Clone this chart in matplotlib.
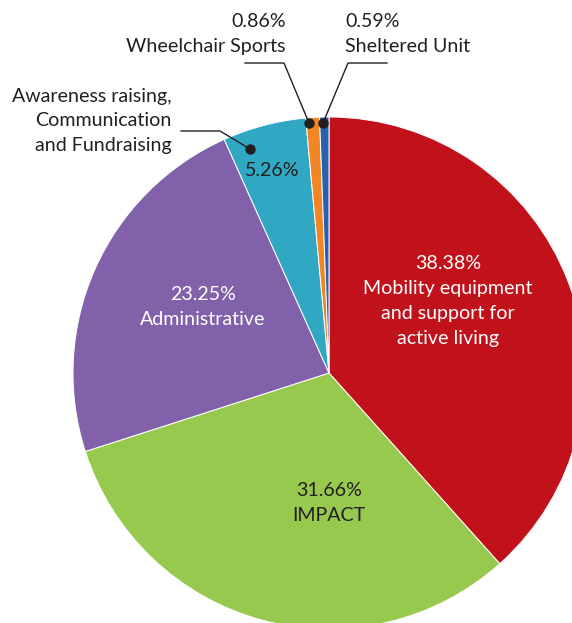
import matplotlib.pyplot as plt

plt.rcParams['font.family'] = ['Lato', 'DejaVu Sans']

categories = ['Mobility equipment\nand support for\nactive living', 'IMPACT', 'Administrative',
              'Awareness raising,\nCommunication\nand Fundraising', 'Wheelchair Sports', 'Sheltered Unit']
values = [38.38, 31.66, 23.25, 5.26, 0.86, 0.59]
colors = ['#C1121C', '#98C94F', '#8161AA', '#31A8C3', '#F28625', '#2862AE']

dark = '#231F20'

fig = plt.figure(figsize=(5.72, 6.23), dpi=100)
ax = fig.add_axes([0, 0, 1, 1])

# y axis inverted so positions below are in picture pixels (top-left origin)
ax.pie(values, colors=colors, center=(329, 373), radius=256, startangle=270,
       counterclock=True, wedgeprops=dict(edgecolor='white', linewidth=0.7))
ax.set_xlim(0, 572)
ax.set_ylim(623, 0)
ax.axis('off')

fs = 14.1
ls = 1.55
lbl = [f'{v:.2f}%\n{c}' for v, c in zip(values, categories)]

# labels inside the slices
ax.text(448, 301, lbl[0], color='white', fontsize=fs, ha='center', va='center', linespacing=ls)
ax.text(329, 503, lbl[1], color=dark, fontsize=fs, ha='center', va='center', linespacing=ls)
ax.text(203, 307, lbl[2], color='white', fontsize=fs, ha='center', va='center', linespacing=ls)
ax.text(272, 170, f'{values[3]:.2f}%', color=dark, fontsize=fs, ha='center', va='center')

# outside labels with leader lines
ax.text(172, 121, categories[3], color=dark, fontsize=fs, ha='right', va='center',
        linespacing=ls, multialignment='right')
ax.plot([181, 220, 250], [131, 131, 149], color=dark, lw=1)
ax.plot(250, 149, 'o', color=dark, ms=6.5)

ax.text(286, 34, lbl[4], color=dark, fontsize=fs, ha='right', va='center',
        linespacing=ls, multialignment='right')
ax.plot([245, 284, 309], [63, 63, 123], color=dark, lw=1)
ax.plot(309, 123, 'o', color=dark, ms=6.5)

ax.text(345, 34, lbl[5], color=dark, fontsize=fs, ha='left', va='center',
        linespacing=ls, multialignment='left')
ax.plot([387, 348, 323], [63, 63, 123], color=dark, lw=1)
ax.plot(323, 123, 'o', color=dark, ms=6.5)

fig.savefig('out.png', dpi=100)
